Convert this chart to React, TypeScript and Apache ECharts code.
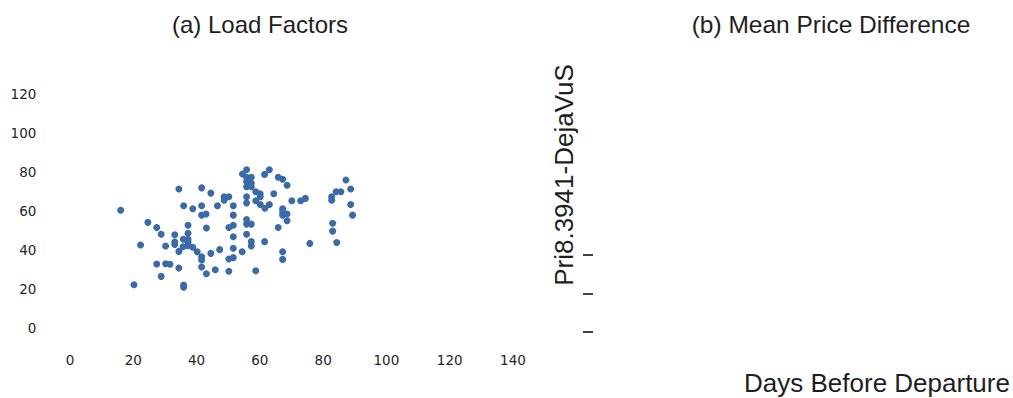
import React, { useEffect, useRef } from "react";
import * as echarts from "echarts";

// Days before departure for each sampled flight, and its load factor (%)
const daysBefore: number[] = [
  16.0, 20.2, 22.3, 24.6, 27.4, 28.8, 27.4, 28.8, 30.2, 30.2, 31.6, 34.4, 35.9,
  33.1, 33.1, 33.1, 34.4, 34.4, 35.9, 35.9, 37.3, 37.3, 35.8, 37.3, 37.3, 35.7,
  37.3, 38.8, 38.8, 40.2, 41.6, 41.6, 41.6, 43.0, 43.1, 41.6, 41.6, 41.6, 43.1,
  44.5, 44.5, 45.9, 46.6, 47.3, 48.7, 50.2, 48.7, 51.6, 51.6, 50.2, 51.6, 51.6,
  51.6, 50.2, 51.6, 50.2, 54.4, 54.5, 55.8, 55.8, 57.3, 55.8, 57.3, 55.8, 57.3,
  55.8, 55.8, 55.8, 55.8, 57.3, 55.8, 57.3, 57.3, 58.7, 58.7, 60.1, 60.1, 58.7,
  60.1, 61.6, 63.0, 61.5, 63.0, 61.5, 64.4, 65.8, 67.2, 68.6, 65.8, 67.2, 67.2,
  67.2, 68.6, 68.6, 70.1, 67.2, 67.2, 72.9, 74.4, 75.8, 82.7, 84.1, 85.6, 82.7,
  87.2, 88.7, 88.7, 89.3, 83.0, 83.0, 84.3,
];
const loadFactor: number[] = [
  60.4, 22.2, 42.6, 54.2, 51.6, 48.1, 32.8, 26.5, 42.1, 33.0, 32.7, 71.3, 62.7,
  47.8, 44.1, 42.9, 39.3, 30.8, 22.1, 20.9, 52.7, 48.6, 45.5, 45.5, 44.1, 41.7,
  42.2, 61.2, 41.4, 39.1, 71.9, 62.7, 57.9, 58.5, 51.3, 36.6, 34.9, 31.3, 27.8,
  69.2, 38.3, 29.9, 62.7, 40.2, 67.3, 67.3, 65.6, 62.7, 57.9, 51.6, 52.7, 46.8,
  40.9, 35.4, 36.1, 29.1, 39.1, 79.0, 81.2, 77.3, 77.3, 75.1, 74.2, 72.5, 72.5,
  67.3, 64.1, 55.7, 53.3, 53.3, 48.1, 44.3, 42.1, 29.4, 69.9, 68.9, 67.3, 65.3,
  63.4, 61.4, 63.4, 78.8, 81.2, 44.3, 68.9, 77.3, 76.3, 73.2, 51.6, 61.2, 59.6,
  57.9, 58.5, 55.0, 65.3, 39.1, 35.2, 65.3, 66.5, 43.4, 67.3, 69.9, 69.9, 65.6,
  75.9, 71.3, 63.4, 57.9, 53.7, 49.7, 43.9,
];

const xTicks: number[] = [0, 20, 40, 60, 80, 100, 120, 140];
const yTicks: number[] = [0, 20, 40, 60, 80, 100, 120];
// Tick positions on the (empty) price-difference axis
const priceTicks: number[] = [0, 1, 2];

const TEXT = "#1e1e1e";
const LABEL = "#262626";
const DOT = "#3a6ba6";

export default function App() {
  const ref = useRef<HTMLDivElement>(null);

  useEffect(() => {
    if (!ref.current) return;
    const chart = echarts.init(ref.current, null, { renderer: "svg" });
    const points = daysBefore.map((d, i) => [d, loadFactor[i]]);

    const titleStyle = {
      fontFamily: "Liberation Sans",
      fontSize: 24,
      fontWeight: "normal",
      color: TEXT,
    };

    chart.setOption({
      animation: false,
      backgroundColor: "#ffffff",
      title: [
        {
          text: "(a) Load Factors",
          left: 255,
          top: 7,
          textAlign: "center",
          textStyle: titleStyle,
        },
        {
          text: "(b) Mean Price Difference",
          left: 826,
          top: 7,
          textAlign: "center",
          textStyle: { ...titleStyle, fontSize: 24.5 },
        },
        {
          text: "Days Before Departure",
          left: 872,
          top: 365,
          textAlign: "center",
          textStyle: { ...titleStyle, fontSize: 26 },
        },
      ],
      graphic: [
        {
          type: "text",
          x: 564,
          y: 175,
          rotation: Math.PI / 2,
          style: {
            text: "Pri8.3941-DejaVuS",
            font: "26px 'Liberation Sans'",
            fill: TEXT,
            textAlign: "center",
            textVerticalAlign: "middle",
          },
        },
      ],
      grid: [
        { left: 38.4, right: 1013 - 544.6, top: 74.6, bottom: 398 - 347.5 },
        { left: 593, right: 20, top: 74.6, bottom: 398 - 347.5 },
      ],
      xAxis: [
        {
          type: "value",
          gridIndex: 0,
          min: -10,
          max: 150,
          axisLine: { show: false },
          axisTick: { show: false },
          splitLine: { show: false },
          axisLabel: {
            customValues: xTicks,
            margin: 5,
            fontFamily: "DejaVu Sans",
            fontSize: 13.5,
            color: LABEL,
          },
        },
        {
          type: "value",
          gridIndex: 1,
          min: 0,
          max: 1,
          show: false,
        },
      ],
      yAxis: [
        {
          type: "value",
          gridIndex: 0,
          min: -10,
          max: 130,
          axisLine: { show: false },
          axisTick: { show: false },
          splitLine: { show: false },
          axisLabel: {
            customValues: yTicks,
            margin: 2,
            fontFamily: "DejaVu Sans",
            fontSize: 13.5,
            color: LABEL,
          },
        },
        {
          type: "value",
          gridIndex: 1,
          min: -0.4,
          max: 6.69,
          axisLine: { show: false },
          splitLine: { show: false },
          axisLabel: { show: false },
          axisTick: {
            show: true,
            customValues: priceTicks,
            length: 10,
            lineStyle: { color: "#111111", width: 1.6 },
          },
        },
      ],
      series: [
        {
          type: "scatter",
          xAxisIndex: 0,
          yAxisIndex: 0,
          data: points,
          symbol: "circle",
          symbolSize: 7,
          itemStyle: { color: DOT, opacity: 1 },
        },
      ],
    });

    return () => chart.dispose();
  }, []);

  return (
    <div
      ref={ref}
      style={{ position: "fixed", left: 0, top: 0, width: 1013, height: 398 }}
    />
  );
}
